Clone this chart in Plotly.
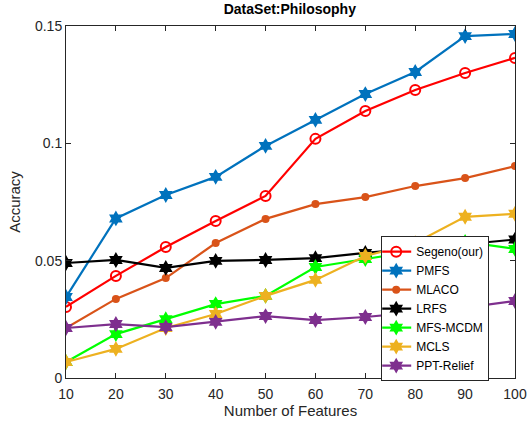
import plotly.graph_objects as go

features = [10, 20, 30, 40, 50, 60, 70, 80, 90, 100]

segeno = [0.0303, 0.0435, 0.0558, 0.0669, 0.0776, 0.1019, 0.1138, 0.1227, 0.1300, 0.1364]
pmfs = [0.0345, 0.0680, 0.0780, 0.0857, 0.0989, 0.1100, 0.1210, 0.1304, 0.1457, 0.1466]
mlaco = [0.0213, 0.0337, 0.0426, 0.0575, 0.0678, 0.0741, 0.0771, 0.0818, 0.0852, 0.0903]
lrfs = [0.0490, 0.0503, 0.0469, 0.0499, 0.0503, 0.0511, 0.0533, 0.0550, 0.0570, 0.0590]
mfs_mcdm = [0.0068, 0.0187, 0.0251, 0.0315, 0.0350, 0.0473, 0.0507, 0.0540, 0.0580, 0.0550]
mcls = [0.0068, 0.0124, 0.0213, 0.0273, 0.0350, 0.0418, 0.0520, 0.0575, 0.0687, 0.0700]
ppt_relief = [0.0213, 0.0230, 0.0217, 0.0239, 0.0264, 0.0247, 0.0260, 0.0280, 0.0300, 0.0328]

series = [
    ("Segeno(our)", segeno, "#FF0000", "circle-open", 10),
    ("PMFS", pmfs, "#0072BD", "hexagram", 12),
    ("MLACO", mlaco, "#D95319", "circle", 8),
    ("LRFS", lrfs, "#000000", "hexagram", 12),
    ("MFS-MCDM", mfs_mcdm, "#00FF00", "hexagram", 12),
    ("MCLS", mcls, "#EDB120", "hexagram", 12),
    ("PPT-Relief", ppt_relief, "#7E2F8E", "hexagram", 12),
]

fig = go.Figure()
for name, vals, color, sym, size in series:
    fig.add_trace(go.Scatter(
        x=features, y=vals, name=name, mode="lines+markers",
        line=dict(color=color, width=2.2),
        marker=dict(symbol=sym, size=size, color=color,
                    line=dict(color=color, width=2 if sym == "circle-open" else 0)),
    ))

axis_common = dict(
    showline=True, linecolor="#262626", linewidth=1, mirror="ticks",
    ticks="inside", ticklen=5, tickcolor="#262626",
    showgrid=False, zeroline=False, automargin=False,
    tickfont=dict(family="Liberation Sans, Arial", size=14, color="#262626"),
)

fig.update_layout(
    width=527, height=421,
    margin=dict(l=66, r=12, t=26, b=43),
    paper_bgcolor="white", plot_bgcolor="white",
    title=dict(text="<b>DataSet:Philosophy</b>", x=0.55, xanchor="center",
               y=0.99, yanchor="top",
               font=dict(family="Liberation Sans, Arial", size=14, color="#000")),
    xaxis=dict(range=[10, 100], tickvals=features, ticklabelstandoff=3,
               title=dict(text="Number of Features", standoff=2,
                          font=dict(family="Liberation Sans, Arial", size=15, color="#262626")),
               **axis_common),
    yaxis=dict(range=[0, 0.15], tickvals=[0, 0.05, 0.1, 0.15],
               ticktext=["0", "0.05", "0.1", "0.15"],
               title=dict(text="Accuracy", standoff=10,
                          font=dict(family="Liberation Sans, Arial", size=15, color="#262626")),
               **axis_common),
    legend=dict(x=0.702, y=0.403, xanchor="left", yanchor="top",
                bgcolor="white", bordercolor="#262626", borderwidth=1,
                font=dict(family="Liberation Sans, Arial", size=12, color="#000"),
                tracegroupgap=0, itemwidth=30, indentation=-6),
    showlegend=True,
)

fig.write_html("out.html")
